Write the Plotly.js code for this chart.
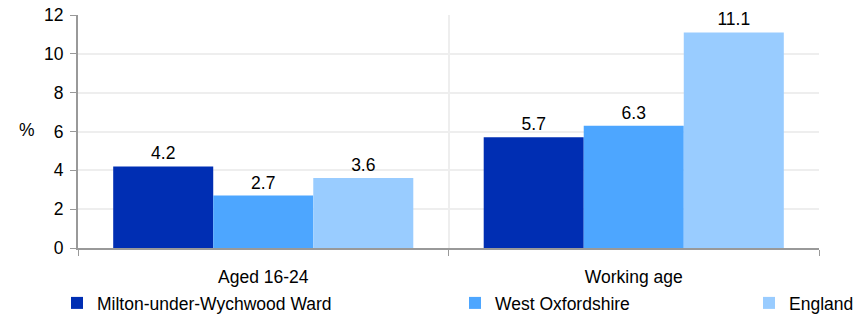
<!DOCTYPE html>
<html><head><meta charset="utf-8">
<script src="https://cdn.plot.ly/plotly-3.0.1.min.js"></script>
<style>html,body{margin:0;padding:0;background:#fff}#chart{width:863px;height:315px}</style>
</head><body><div id="chart"></div>
<script>
const categories = ["Aged 16-24", "Working age"];
const seriesNames = ["Milton-under-Wychwood Ward", "West Oxfordshire", "England"];
const milton = [4.2, 5.7];
const westOx = [2.7, 6.3];
const england = [3.6, 11.1];
const colors = ["#002EB3", "#4DA6FF", "#99CCFF"];
const values = [milton, westOx, england];
const legendIds = ["legend", "legend2", "legend3"];
const font = {family: "Liberation Sans, Arial, sans-serif", size: 17.5, color: "#000"};

const traces = values.map((v, i) => ({
  type: "bar", x: categories, y: v, name: seriesNames[i],
  marker: {color: colors[i]}, text: v.map(n => n.toFixed(1)),
  textposition: "outside", cliponaxis: false,
  textfont: font, legend: legendIds[i], hoverinfo: "skip"
}));

const legendBase = {orientation: "h", yref: "container", yanchor: "middle", y: 0.038,
  xref: "container", xanchor: "left",
  font: font, bgcolor: "rgba(0,0,0,0)", itemwidth: 30, tracegroupgap: 0};

const layout = {
  width: 863, height: 315,
  margin: {l: 78, r: 44, t: 15, b: 67},
  paper_bgcolor: "#fff", plot_bgcolor: "#fff",
  font: font,
  barmode: "group", bargap: 0.19, bargroupgap: 0,
  xaxis: {type: "category", tickson: "boundaries", ticks: "outside", ticklen: 6,
    tickcolor: "#999", showline: true, linecolor: "#999", linewidth: 2,
    showgrid: true, gridcolor: "#eeeeee", gridwidth: 2, tickfont: font, automargin: false,
    ticklabelstandoff: 12},
  yaxis: {range: [0, 12], dtick: 2, ticks: "outside", ticklen: 6, tickcolor: "#999",
    showline: true, linecolor: "#999", linewidth: 2, showgrid: true, gridcolor: "#eeeeee",
    gridwidth: 2, zeroline: false, tickfont: font, automargin: false, ticklabelstandoff: 3},
  showlegend: true,
  legend: Object.assign({}, legendBase, {x: 57 / 863}),
  legend2: Object.assign({}, legendBase, {x: 455 / 863}),
  legend3: Object.assign({}, legendBase, {x: 749 / 863}),
  annotations: [{text: "%", xref: "paper", yref: "paper", x: -0.055, y: 0.505,
    xanchor: "right", yanchor: "middle", showarrow: false, font: font}]
};

Plotly.newPlot("chart", traces, layout, {displayModeBar: false, staticPlot: true});
</script></body></html>
